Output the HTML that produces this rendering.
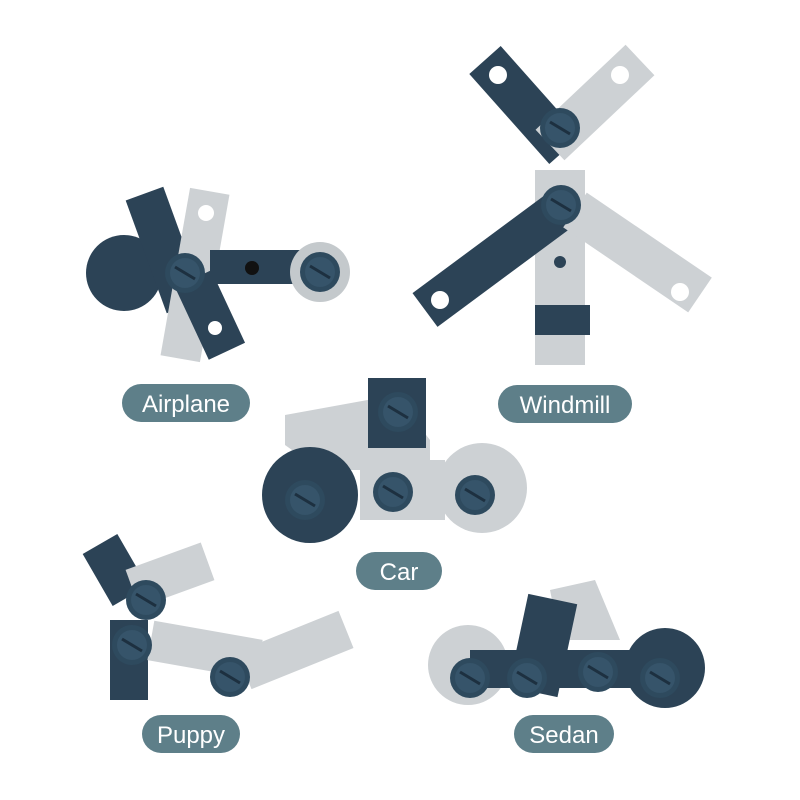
<!DOCTYPE html>
<html><head><style>
body{margin:0;background:#fff;width:800px;height:800px;overflow:hidden}
svg{display:block}
text{font-family:"Liberation Sans",sans-serif;fill:#fff;font-size:24px}
</style></head><body>
<svg width="800" height="800" viewBox="0 0 800 800">
<defs>
<g id="bolt"><circle r="20" fill="#2e4a5e"/><circle r="15" fill="#36546a"/><line x1="-10" y1="-6" x2="10" y2="6" stroke="#1d3040" stroke-width="3"/></g>
</defs>
<!-- Airplane -->
<circle cx="124" cy="273" r="38" fill="#2c4356"/>
<rect x="145" y="190" width="40" height="120" fill="#2c4356" transform="rotate(-20 165 250)"/>
<rect x="175" y="190" width="40" height="170" fill="#cdd1d4" transform="rotate(10 195 275)"/>
<rect x="190" y="275" width="40" height="80" fill="#2c4356" transform="rotate(-25 210 315)"/>
<rect x="210" y="250" width="90" height="34" fill="#2c4356"/>
<circle cx="252" cy="268" r="7" fill="#111"/>
<circle cx="320" cy="272" r="30" fill="#c4c9cc"/>
<circle cx="206" cy="213" r="8" fill="#fff"/><circle cx="152" cy="330" r="8" fill="#fff"/><circle cx="215" cy="328" r="7" fill="#fff"/>
<use href="#bolt" x="185" y="273"/><use href="#bolt" x="320" y="272"/>
<!-- Windmill -->
<rect x="535" y="170" width="50" height="195" fill="#cdd1d4"/>
<rect x="535" y="305" width="55" height="30" fill="#2c4356"/>
<line x1="485" y1="60" x2="565" y2="150" stroke="#2c4356" stroke-width="42"/>
<line x1="640" y1="60" x2="550" y2="145" stroke="#cdd1d4" stroke-width="42"/>
<line x1="425" y1="310" x2="560" y2="210" stroke="#2c4356" stroke-width="42"/>
<line x1="700" y1="295" x2="575" y2="210" stroke="#cdd1d4" stroke-width="42"/>
<circle cx="498" cy="75" r="9" fill="#fff"/><circle cx="620" cy="75" r="9" fill="#fff"/><circle cx="440" cy="300" r="9" fill="#fff"/><circle cx="680" cy="292" r="9" fill="#fff"/>
<circle cx="560" cy="262" r="6" fill="#2c4356"/>
<use href="#bolt" x="560" y="128"/><use href="#bolt" x="561" y="205"/>
<!-- Car -->
<polygon points="285,415 395,395 430,440 430,470 320,470 285,445" fill="#cdd1d4"/>
<rect x="368" y="378" width="58" height="70" fill="#2c4356"/>
<circle cx="310" cy="495" r="48" fill="#2c4356"/>
<circle cx="482" cy="488" r="45" fill="#cdd1d4"/>
<rect x="360" y="460" width="85" height="60" fill="#cdd1d4"/>
<use href="#bolt" x="398" y="412"/><use href="#bolt" x="305" y="500"/><use href="#bolt" x="393" y="492"/><use href="#bolt" x="475" y="495"/>
<!-- Puppy -->
<rect x="95" y="540" width="40" height="60" fill="#2c4356" transform="rotate(-30 115 570)"/>
<rect x="130" y="555" width="80" height="40" fill="#cdd1d4" transform="rotate(-20 170 575)"/>
<rect x="110" y="620" width="38" height="80" fill="#2c4356"/>
<rect x="150" y="630" width="110" height="40" fill="#cdd1d4" transform="rotate(10 205 650)"/>
<rect x="240" y="630" width="110" height="40" fill="#cdd1d4" transform="rotate(-22 295 650)"/>
<use href="#bolt" x="146" y="600"/><use href="#bolt" x="132" y="645"/><use href="#bolt" x="230" y="677"/>
<!-- Sedan -->
<polygon points="550,590 595,580 620,640 560,640" fill="#cdd1d4"/>
<rect x="518" y="598" width="50" height="95" fill="#2c4356" transform="rotate(12 543 645)"/>
<circle cx="468" cy="665" r="40" fill="#cdd1d4"/>
<circle cx="665" cy="668" r="40" fill="#2c4356"/>
<rect x="470" y="650" width="190" height="38" fill="#2c4356"/>
<use href="#bolt" x="470" y="678"/><use href="#bolt" x="527" y="678"/><use href="#bolt" x="598" y="672"/><use href="#bolt" x="660" y="678"/>
<!-- Labels -->
<rect x="122" y="384" width="128" height="38" rx="19" fill="#5e7f89"/><text x="186" y="412" text-anchor="middle">Airplane</text>
<rect x="498" y="385" width="134" height="38" rx="19" fill="#5e7f89"/><text x="565" y="413" text-anchor="middle">Windmill</text>
<rect x="356" y="552" width="86" height="38" rx="19" fill="#5e7f89"/><text x="399" y="580" text-anchor="middle">Car</text>
<rect x="142" y="715" width="98" height="38" rx="19" fill="#5e7f89"/><text x="191" y="743" text-anchor="middle">Puppy</text>
<rect x="514" y="715" width="100" height="38" rx="19" fill="#5e7f89"/><text x="564" y="743" text-anchor="middle">Sedan</text>
</svg>
</body></html>
